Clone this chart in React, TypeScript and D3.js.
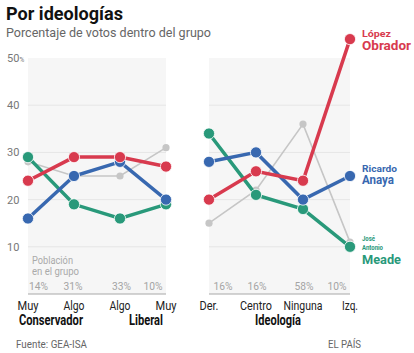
import React from "react";
import * as d3 from "d3";

const leftCats = ["Muy", "Algo", "Algo ", "Muy "];
const rightCats = ["Der.", "Centro", "Ninguna", "Izq."];
const leftPop = ["14%", "31%", "33%", "10%"];
const rightPop = ["16%", "16%", "58%", "10%"];

const obradorLeft = [24, 29, 29, 27];
const anayaLeft = [16, 25, 28, 20];
const meadeLeft = [29, 19, 16, 19];
const otrosLeft = [28, 25, 25, 31];

const obradorRight = [20, 26, 24, 54];
const anayaRight = [28, 30, 20, 25];
const meadeRight = [34, 21, 18, 10];
const otrosRight = [15, 22, 36, 11];

const yTicks = [10, 20, 30, 40, 50];

const RED = "#d83a4e";
const BLUE = "#3868b0";
const GREEN = "#29997a";
const GRAY = "#c6c6c6";

const FONT = "Roboto, 'Noto Sans', sans-serif";

const y = d3.scaleLinear().domain([0, 50]).range([294, 58]);

type TP = {
  x: number;
  y: number;
  w?: number;
  size: number;
  fill: string;
  bold?: boolean;
  anchor?: "start" | "middle" | "end";
  children: React.ReactNode;
};
function T({ x, y, w, size, fill, bold, anchor, children }: TP) {
  return (
    <text
      x={x}
      y={y}
      fontSize={size}
      fill={fill}
      fontWeight={bold ? "bold" : "normal"}
      fontFamily={FONT}
      textAnchor={anchor || "start"}
      textLength={w}
      lengthAdjust={w ? "spacingAndGlyphs" : undefined}
    >
      {children}
    </text>
  );
}

type Series = { values: number[]; color: string; width: number; r: number };

function Panel({
  cats,
  pop,
  series,
  x0,
  x1,
  catW,
  popDx,
}: {
  cats: string[];
  pop: string[];
  series: Series[];
  x0: number;
  x1: number;
  catW: number[];
  popDx: number[];
}) {
  const x = d3.scalePoint<string>().domain(cats).range([x0, x1]);
  const line = d3
    .line<number>()
    .x((_, i) => x(cats[i]) as number)
    .y((d) => y(d));
  return (
    <g>
      <rect x={x0} y={y(50)} width={x1 - x0} height={y(0) - y(50)} fill="#f6f6f6" />
      {yTicks.slice(0, 4).map((t) => (
        <line key={t} x1={x0} x2={x1} y1={y(t)} y2={y(t)} stroke="#e6e6e6" strokeWidth={1} />
      ))}
      <line x1={x0} x2={x1} y1={y(0)} y2={y(0)} stroke="#a8a8a8" strokeWidth={1.2} />
      {pop.map((p, i) => (
        <T key={i} x={(x(cats[i]) as number) + popDx[i]} y={290} w={19} size={11} fill="#a4a4a4" anchor="middle">
          {p}
        </T>
      ))}
      {cats.map((c, i) => (
        <T key={c} x={x(c) as number} y={310} w={catW[i]} size={13.5} fill="#222" anchor="middle">
          {c.trim()}
        </T>
      ))}
      {series.map((s, k) => (
        <g key={k}>
          <path d={line(s.values) || ""} fill="none" stroke={s.color} strokeWidth={s.width} />
          {s.values.map((v, i) => (
            <circle
              key={i}
              cx={x(cats[i])}
              cy={y(v)}
              r={s.r}
              fill={s.color}
              stroke="#fff"
              strokeWidth={s.r > 4 ? 0.8 : 0}
            />
          ))}
        </g>
      ))}
    </g>
  );
}

export default function App() {
  const leftSeries: Series[] = [
    { values: otrosLeft, color: GRAY, width: 1.6, r: 3.6 },
    { values: meadeLeft, color: GREEN, width: 3.5, r: 5.6 },
    { values: anayaLeft, color: BLUE, width: 3.5, r: 5.6 },
    { values: obradorLeft, color: RED, width: 3.5, r: 5.6 },
  ];
  const rightSeries: Series[] = [
    { values: otrosRight, color: GRAY, width: 1.6, r: 3.6 },
    { values: meadeRight, color: GREEN, width: 3.5, r: 5.6 },
    { values: anayaRight, color: BLUE, width: 3.5, r: 5.6 },
    { values: obradorRight, color: RED, width: 3.5, r: 5.6 },
  ];
  return (
    <svg width={414} height={353} style={{ position: "absolute", left: 0, top: 0 }}>
      <rect width={414} height={353} fill="#fff" />
      <T x={6} y={20} w={117} size={18} bold fill="#111">Por ideologías</T>
      <T x={6} y={37} w={205} size={13.5} fill="#666">Porcentaje de votos dentro del grupo</T>
      {yTicks.map((t) => (
        <text key={t} x={7} y={y(t) + 4} fontSize={11} fill="#777" fontFamily={FONT}>
          {t}
          {t === 50 ? <tspan fontSize={6.5}>%</tspan> : null}
        </text>
      ))}
      <Panel cats={leftCats} pop={leftPop} series={leftSeries} x0={28} x1={166} catW={[21, 21, 21, 21]} popDx={[10.5, -1, 1.5, -13]} />
      <Panel cats={rightCats} pop={rightPop} series={rightSeries} x0={209} x1={350} catW={[19, 32, 39, 16]} popDx={[14, 1, 1, -13]} />
      <T x={32} y={263.5} w={41} size={10} fill="#aaa">Población</T>
      <T x={32} y={275} w={47} size={10} fill="#aaa">en el grupo</T>
      <T x={51} y={325} w={64} size={14} bold fill="#111" anchor="middle">Conservador</T>
      <T x={146} y={325} w={34} size={14} bold fill="#111" anchor="middle">Liberal</T>
      <T x={278} y={325} w={46} size={14} bold fill="#111" anchor="middle">Ideología</T>
      <T x={362} y={37} w={29} size={9} bold fill={RED}>López</T>
      <T x={362} y={49.5} w={49} size={13} bold fill={RED}>Obrador</T>
      <T x={362} y={171.5} w={35} size={9} bold fill={BLUE}>Ricardo</T>
      <T x={362} y={184} w={32} size={13} bold fill={BLUE}>Anaya</T>
      <T x={362} y={240.5} w={13} size={7.5} bold fill={GREEN}>José</T>
      <T x={362} y={249.5} w={21} size={7.5} bold fill={GREEN}>Antonio</T>
      <T x={362} y={263.5} w={39} size={13} bold fill={GREEN}>Meade</T>
      <T x={16} y={348} w={71} size={11} fill="#666">Fuente: GEA-ISA</T>
      <T x={328} y={348} w={33} size={11} fill="#666">EL PAÍS</T>
    </svg>
  );
}
